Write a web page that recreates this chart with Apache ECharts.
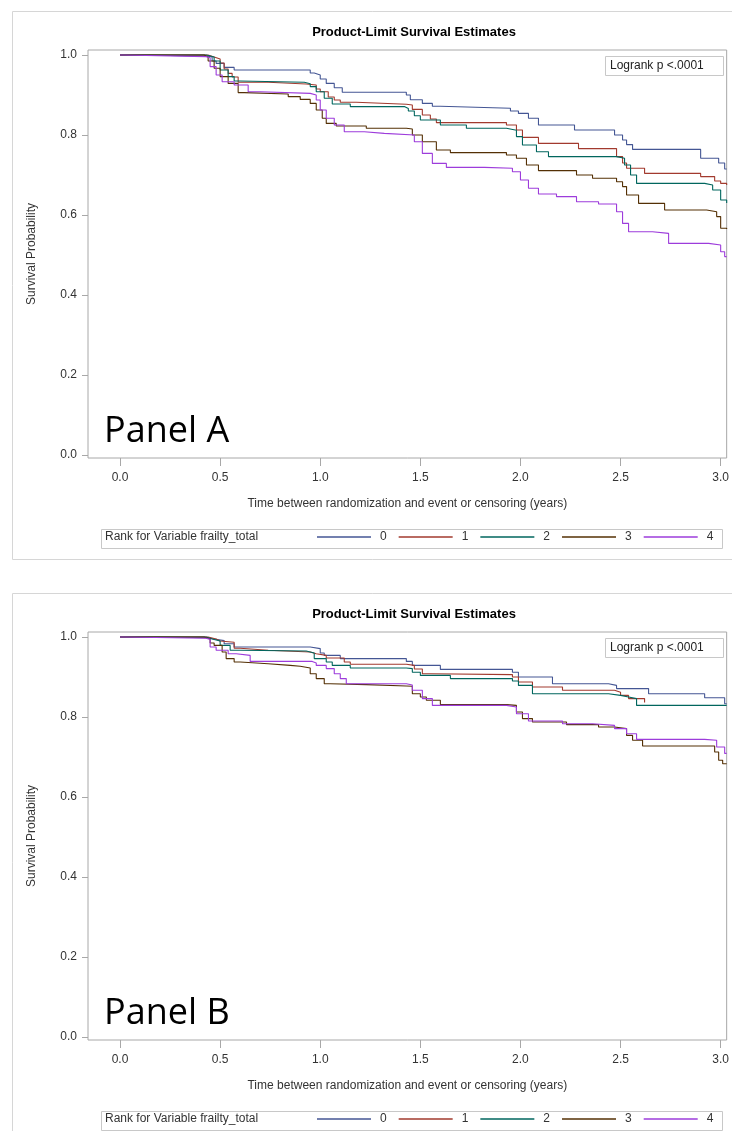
<!DOCTYPE html>
<html>
<head>
<meta charset="utf-8">
<script src="https://cdn.jsdelivr.net/npm/echarts@6/dist/echarts.min.js"></script>
<style>
html,body{margin:0;padding:0;background:#fff;}
#chart{width:732px;height:1131px;}
</style>
</head>
<body>
<div id="chart"></div>
<script>
// ---------- data ----------
const groups = ['0', '1', '2', '3', '4'];
const xTicks = [0, 0.5, 1.0, 1.5, 2.0, 2.5, 3.0];
const yTicks = [0, 0.2, 0.4, 0.6, 0.8, 1.0];
const chartTitle = 'Product-Limit Survival Estimates';
const xTitle = 'Time between randomization and event or censoring (years)';
const yTitle = 'Survival Probability';
const legendTitle = 'Rank for Variable frailty_total';
const logrankText = 'Logrank p <.0001';
const panelLabels = ['Panel A', 'Panel B'];

// Panel A: [time (years), survival probability]
const a0 = [[0,1],[0.12,0.997],[0.44,0.995],[0.46,0.985],[0.48,0.979],[0.52,0.969],[0.57,0.9625],[0.95,0.955],[0.97,0.95],[1.0,0.94],[1.03,0.929],[1.07,0.918],[1.11,0.907],[1.43,0.9],[1.45,0.888],[1.51,0.879],[1.56,0.872],[1.6,0.867],[1.95,0.86],[1.99,0.854],[2.04,0.842],[2.09,0.825],[2.27,0.8125],[2.47,0.8],[2.51,0.7875],[2.53,0.776],[2.56,0.764],[2.9,0.742],[2.99,0.73],[3.02,0.715],[3.03,0.715]];
const a1 = [[0,1],[0.44,0.995],[0.47,0.99],[0.5,0.98],[0.52,0.965],[0.54,0.954],[0.56,0.945],[0.59,0.932],[0.74,0.9275],[0.93,0.925],[0.98,0.915],[1.0,0.908],[1.04,0.895],[1.07,0.8875],[1.1,0.882],[1.18,0.877],[1.43,0.875],[1.46,0.864],[1.51,0.85],[1.55,0.84],[1.58,0.831],[1.93,0.825],[1.98,0.8125],[2.01,0.794],[2.09,0.779],[2.29,0.766],[2.48,0.746],[2.51,0.73],[2.53,0.717],[2.62,0.704],[2.9,0.696],[2.97,0.685],[3.0,0.679],[3.03,0.675]];
const a2 = [[0,1],[0.43,0.995],[0.47,0.985],[0.5,0.9625],[0.54,0.946],[0.57,0.935],[0.6,0.932],[0.92,0.928],[0.95,0.921],[0.98,0.908],[1.02,0.892],[1.06,0.8775],[1.15,0.871],[1.42,0.866],[1.44,0.86],[1.47,0.848],[1.5,0.8375],[1.6,0.825],[1.73,0.817],[1.93,0.812],[1.98,0.796],[2.01,0.775],[2.08,0.758],[2.14,0.746],[2.48,0.742],[2.52,0.725],[2.55,0.7],[2.58,0.679],[2.92,0.675],[2.96,0.6625],[3.0,0.6375],[3.03,0.63]];
const a3 = [[0,1],[0.42,0.995],[0.44,0.985],[0.47,0.967],[0.5,0.946],[0.54,0.929],[0.59,0.906],[0.62,0.9025],[0.84,0.896],[0.9,0.889],[0.95,0.879],[0.98,0.8625],[1.01,0.842],[1.03,0.829],[1.08,0.8225],[1.23,0.8167],[1.43,0.815],[1.46,0.8],[1.51,0.783],[1.58,0.7625],[1.65,0.756],[1.93,0.75],[1.98,0.742],[2.03,0.725],[2.09,0.711],[2.28,0.7],[2.36,0.692],[2.48,0.683],[2.51,0.671],[2.53,0.65],[2.59,0.629],[2.72,0.6125],[2.93,0.608],[2.98,0.596],[3.0,0.567],[3.03,0.565]];
const a4 = [[0,1],[0.01,0.996],[0.43,0.993],[0.45,0.971],[0.48,0.95],[0.51,0.933],[0.57,0.925],[0.64,0.908],[0.7,0.904],[0.95,0.9],[0.98,0.8875],[1.0,0.8625],[1.03,0.842],[1.07,0.825],[1.12,0.808],[1.22,0.804],[1.32,0.8],[1.47,0.783],[1.51,0.754],[1.56,0.729],[1.63,0.719],[1.82,0.7167],[1.96,0.708],[2.0,0.6875],[2.04,0.667],[2.09,0.6525],[2.18,0.646],[2.28,0.633],[2.39,0.6275],[2.48,0.608],[2.51,0.579],[2.54,0.558],[2.66,0.554],[2.74,0.529],[2.94,0.525],[3.0,0.508],[3.02,0.496],[3.03,0.496]];

// Panel B
const b0 = [[0,1],[0.2,0.998],[0.44,0.995],[0.47,0.991],[0.52,0.983],[0.57,0.975],[0.95,0.971],[1.0,0.96],[1.02,0.954],[1.1,0.946],[1.43,0.939],[1.46,0.929],[1.6,0.919],[1.96,0.912],[1.99,0.9],[2.16,0.883],[2.44,0.879],[2.48,0.871],[2.64,0.858],[2.92,0.848],[3.02,0.833],[3.03,0.833]];
const b1 = [[0,1],[0.44,0.995],[0.48,0.99],[0.5,0.987],[0.57,0.972],[0.6,0.967],[0.74,0.9625],[0.95,0.958],[0.98,0.954],[1.03,0.9475],[1.12,0.9375],[1.15,0.932],[1.43,0.929],[1.47,0.92],[1.51,0.9083],[1.55,0.906],[1.96,0.9],[1.99,0.8875],[2.06,0.875],[2.21,0.867],[2.47,0.862],[2.5,0.854],[2.54,0.846],[2.62,0.836]];
const b2 = [[0,1],[0.43,0.995],[0.46,0.99],[0.5,0.979],[0.55,0.967],[0.6,0.965],[0.93,0.96],[0.97,0.946],[1.03,0.9375],[1.06,0.929],[1.15,0.9225],[1.43,0.921],[1.46,0.912],[1.5,0.904],[1.65,0.896],[1.96,0.89],[1.99,0.879],[2.06,0.858],[2.44,0.854],[2.5,0.85],[2.54,0.846],[2.58,0.829],[3.03,0.829]];
const b3 = [[0,1],[0.42,0.995],[0.45,0.985],[0.47,0.979],[0.51,0.9625],[0.53,0.946],[0.57,0.9375],[0.6,0.933],[0.74,0.929],[0.85,0.927],[0.9,0.9225],[0.95,0.9083],[0.98,0.896],[1.02,0.8833],[1.05,0.881],[1.23,0.8775],[1.43,0.877],[1.46,0.858],[1.5,0.85],[1.53,0.8417],[1.6,0.831],[1.93,0.829],[1.98,0.8125],[2.01,0.796],[2.06,0.7875],[2.23,0.781],[2.39,0.775],[2.47,0.771],[2.53,0.754],[2.56,0.742],[2.61,0.7275],[2.97,0.7125],[2.99,0.692],[3.01,0.683],[3.03,0.683]];
const b4 = [[0,1],[0.01,0.997],[0.43,0.994],[0.45,0.975],[0.48,0.967],[0.54,0.958],[0.58,0.954],[0.65,0.939],[0.96,0.935],[0.98,0.929],[1.03,0.921],[1.07,0.9083],[1.1,0.896],[1.13,0.8833],[1.43,0.88],[1.46,0.867],[1.51,0.846],[1.56,0.829],[1.93,0.825],[1.98,0.8083],[2.04,0.79],[2.21,0.7833],[2.36,0.779],[2.47,0.771],[2.53,0.758],[2.58,0.744],[2.92,0.7417],[2.98,0.725],[3.02,0.709],[3.03,0.709]];

const colors = ['#445694', '#A23A2E', '#01665E', '#543005', '#9D3CDB'];

// ---------- layout ----------
const FONT = '"Liberation Sans", Arial, sans-serif';
const panelTops = [50, 632];
const plotLeft = 88, plotWidth = 641, plotHeight = 408;
const panelData = [[a0, a1, a2, a3, a4], [b0, b1, b2, b3, b4]];

const grids = [], xAxes = [], yAxes = [], series = [], titles = [], legends = [], graphics = [];
const fmt = v => Number(v).toFixed(1);

panelTops.forEach((top, p) => {
  grids.push({left: plotLeft, top: top, width: plotWidth, height: plotHeight,
    show: true, borderColor: '#a8a8a8', borderWidth: 1, backgroundColor: '#fff'});
  xAxes.push({gridIndex: p, type: 'value', min: -0.16, max: 3.03, position: 'bottom',
    axisLine: {show: false, onZero: false}, splitLine: {show: false},
    axisTick: {show: true, customValues: xTicks, length: 8, lineStyle: {color: '#a8a8a8'}},
    axisLabel: {customValues: xTicks, formatter: fmt, color: '#333', fontSize: 12, fontFamily: FONT, margin: 14},
    name: xTitle, nameLocation: 'middle', nameGap: 40,
    nameTextStyle: {color: '#333', fontSize: 12, fontFamily: FONT}});
  yAxes.push({gridIndex: p, type: 'value', min: -0.0075, max: 1.0125, position: 'left',
    axisLine: {show: false, onZero: false}, splitLine: {show: false},
    axisTick: {show: true, customValues: yTicks, length: 6, lineStyle: {color: '#a8a8a8'}},
    axisLabel: {customValues: yTicks, formatter: fmt, color: '#333', fontSize: 12, fontFamily: FONT, margin: 11},
    name: yTitle, nameLocation: 'middle', nameGap: 50,
    nameTextStyle: {color: '#333', fontSize: 12, fontFamily: FONT}});
  panelData[p].forEach((d, g) => {
    series.push({name: groups[g], type: 'line', xAxisIndex: p, yAxisIndex: p,
      data: d, step: 'end', symbol: 'none', showSymbol: false, silent: true, animation: false,
      lineStyle: {width: 1.1, color: colors[g]}, itemStyle: {color: colors[g]}});
  });
  titles.push({text: chartTitle, left: 409, top: top - 29, textAlign: 'center',
    textStyle: {fontSize: 13, fontWeight: 'bold', color: '#000', fontFamily: FONT}});
  legends.push({data: groups, left: 317, top: top + 481, padding: 0,
    icon: 'rect', itemWidth: 54, itemHeight: 1.5, itemGap: 12, selectedMode: false,
    textStyle: {fontSize: 12, color: '#333', fontFamily: FONT, padding: [0, 0, 0, 4]}});
  // outer panel border
  graphics.push({type: 'rect', left: 10, top: top - 41, silent: true,
    shape: {width: 740, height: 548}, style: {fill: null, stroke: '#d6d6d6', lineWidth: 1}});
  // panel label
  graphics.push({type: 'text', left: 104, top: top + 364, silent: true,
    style: {text: panelLabels[p], fill: '#000', font: '36px "Open Sans", sans-serif'}});
  // logrank inset
  graphics.push({type: 'rect', left: 605, top: top + 6, silent: true,
    shape: {width: 118, height: 19}, style: {fill: '#fff', stroke: '#c8c8c8', lineWidth: 1}});
  graphics.push({type: 'text', left: 610, top: top + 10, silent: true,
    style: {text: logrankText, fill: '#222', font: '12px ' + FONT}});
  // legend frame + title
  graphics.push({type: 'rect', left: 99, top: top + 477, silent: true,
    shape: {width: 621, height: 19}, style: {fill: null, stroke: '#c8c8c8', lineWidth: 1}});
  graphics.push({type: 'text', left: 105, top: top + 481, silent: true,
    style: {text: legendTitle, fill: '#333', font: '12px ' + FONT}});
});

const chart = echarts.init(document.getElementById('chart'), null, {renderer: 'canvas'});
chart.setOption({
  animation: false,
  backgroundColor: '#fff',
  title: titles,
  grid: grids,
  xAxis: xAxes,
  yAxis: yAxes,
  legend: legends,
  series: series,
  graphic: graphics
});
</script>
</body>
</html>
